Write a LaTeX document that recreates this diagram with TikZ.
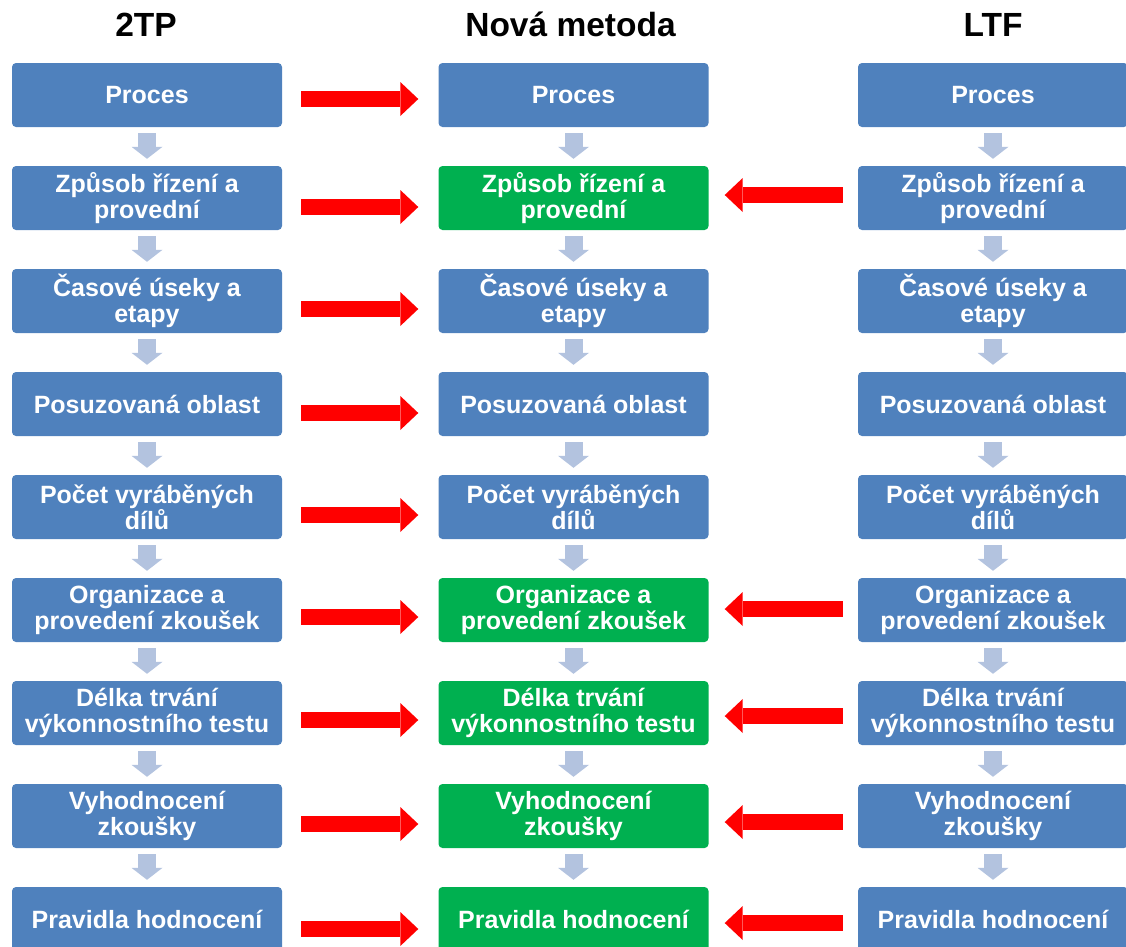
\documentclass[tikz,border=0pt]{standalone}
\usepackage{fontspec}
\setmainfont{Liberation Sans}
\usetikzlibrary{arrows.meta}
\definecolor{boxblue}{HTML}{4F81BD}
\definecolor{boxgreen}{HTML}{00B050}
\definecolor{flowgray}{HTML}{B3C3DF}
\definecolor{redarrow}{HTML}{FF0000}
\begin{document}
\begin{tikzpicture}[x=1pt,y=-1pt,
  box/.style={rectangle, rounded corners=4pt, minimum width=270pt, minimum height=64pt,
    inner sep=0pt, text=white, font=\bfseries\fontsize{25}{26}\selectfont,
    align=center, fill=boxblue},
  newbox/.style={box, fill=boxgreen},
  colhead/.style={font=\bfseries\fontsize{33.5}{36}\selectfont, anchor=base, inner sep=0pt},
  flow/.style={draw=flowgray, line width=18pt,
    -{Triangle[length=12pt 0,width=31pt 0,line width=0pt 0]},
    shorten <=6pt, shorten >=7pt},
  transfer/.style={draw=redarrow, line width=16pt,
    -{Triangle[length=18pt 0,width=34pt 0,line width=0pt 0]}}
]
\useasboundingbox (0,0) rectangle (1126,946);
\clip (0,0) rectangle (1126,946);

\node[colhead] (h1) at (146,36) {2TP};
\node[colhead] (h2) at (570.5,36) {Nová metoda};
\node[colhead] (h3) at (993,36) {LTF};

\foreach \i/\t in {1/Proces, 2/{Způsob řízení a\\provední}, 3/{Časové úseky a\\etapy},
  4/Posuzovaná oblast, 5/{Počet vyráběných\\dílů}, 6/{Organizace a\\provedení zkoušek},
  7/{Délka trvání\\výkonnostního testu}, 8/{Vyhodnocení\\zkoušky}, 9/Pravidla hodnocení}{
  \pgfmathsetmacro\yy{95+(\i-1)*103}
  \node[box] (L\i) at (147,\yy) {\t};
  \node[box] (R\i) at (993,\yy) {\t};
}
\foreach \i/\s/\t in {1/box/Proces, 2/newbox/{Způsob řízení a\\provední}, 3/box/{Časové úseky a\\etapy},
  4/box/Posuzovaná oblast, 5/box/{Počet vyráběných\\dílů}, 6/newbox/{Organizace a\\provedení zkoušek},
  7/newbox/{Délka trvání\\výkonnostního testu}, 8/newbox/{Vyhodnocení\\zkoušky}, 9/newbox/Pravidla hodnocení}{
  \pgfmathsetmacro\yy{95+(\i-1)*103}
  \node[\s] (M\i) at (573.5,\yy) {\t};
}

\foreach \i in {1,...,8}{
  \pgfmathtruncatemacro\j{\i+1}
  \draw[flow] (L\i) -- (L\j);
  \draw[flow] (M\i) -- (M\j);
  \draw[flow] (R\i) -- (R\j);
}

\foreach \i/\o in {1/-4,2/-9,3/-8,4/-9,5/-8,6/-7,7/-7,8/-8,9/-10}{
  \draw[transfer, shorten <=19pt, shorten >=20pt]
    ([yshift=\o pt]L\i.east) -- ([yshift=\o pt]M\i.west);
}
\foreach \i/\o in {2/3,6/1,7/-3,8/-6,9/-4}{
  \draw[transfer, shorten <=15pt, shorten >=16pt]
    ([yshift=\o pt]R\i.west) -- ([yshift=\o pt]M\i.east);
}
\end{tikzpicture}
\end{document}
